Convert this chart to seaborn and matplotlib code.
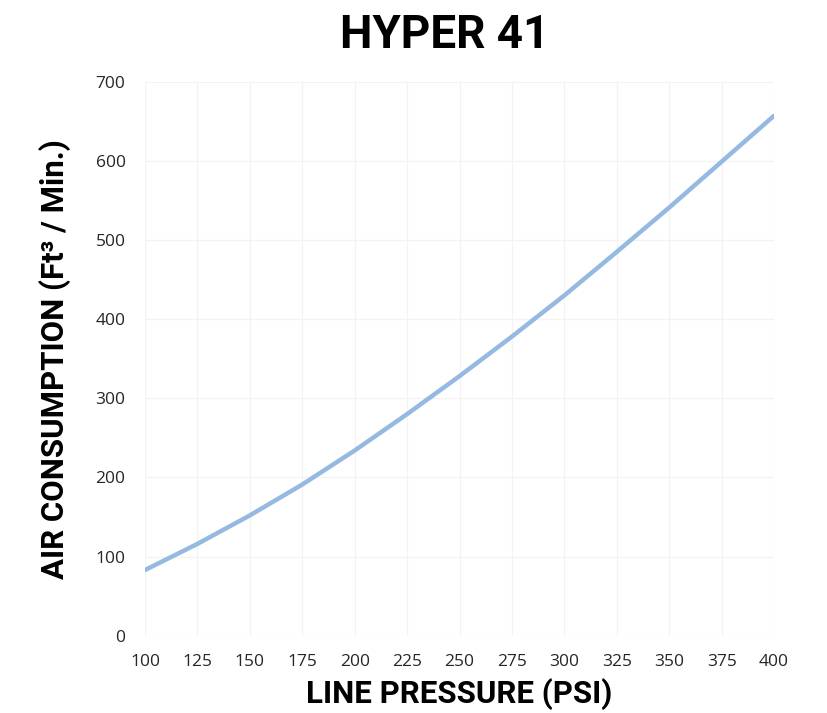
import numpy as np
import pandas as pd
import seaborn as sns
import matplotlib.pyplot as plt

# line pressure (psi) vs air consumption (ft3/min)
pressure = [100, 125, 150, 175, 200, 225, 250, 275, 300, 325, 350, 375, 400]
consumption = [83, 116, 152, 191, 234, 280, 328, 378, 430, 485, 541, 599, 657]

df = pd.DataFrame({'pressure': pressure, 'consumption': consumption})

sns.set_theme(style='white')
plt.rcParams['font.family'] = ['Open Sans', 'DejaVu Sans']

fig = plt.figure(figsize=(8.27, 7.13), dpi=100)
ax = fig.add_axes([0.1753, 0.1084, 0.7607, 0.777])

sns.lineplot(data=df, x='pressure', y='consumption', ax=ax,
             color='#95b9e0', linewidth=3.2)

ax.set_xlim(100, 400)
ax.set_ylim(0, 700)
ax.set_xticks(np.arange(100, 401, 25))
ax.set_yticks(np.arange(0, 701, 100))
ax.grid(True, color='#f3f3f3', linewidth=0.9)
for s in ax.spines.values():
    s.set_visible(False)
ax.tick_params(axis='both', length=0, labelsize=12.5, labelcolor='#262626')
ax.tick_params(axis='y', pad=14)
ax.tick_params(axis='x', pad=13)

ax.set_xlabel('LINE PRESSURE (PSI)', fontsize=22.5, fontweight='bold',
              family=['Roboto', 'DejaVu Sans'], labelpad=6, color='black')
ax.set_ylabel('AIR CONSUMPTION (Ft³ / Min.)', fontsize=22.5, fontweight='bold',
              family=['Roboto', 'DejaVu Sans'], labelpad=18, color='black')

fig.text(0.538, 0.951, 'HYPER 41', ha='center', va='center', fontsize=33,
         fontweight='bold', family=['Roboto', 'DejaVu Sans'], color='black')

fig.savefig('out.png', dpi=100)
